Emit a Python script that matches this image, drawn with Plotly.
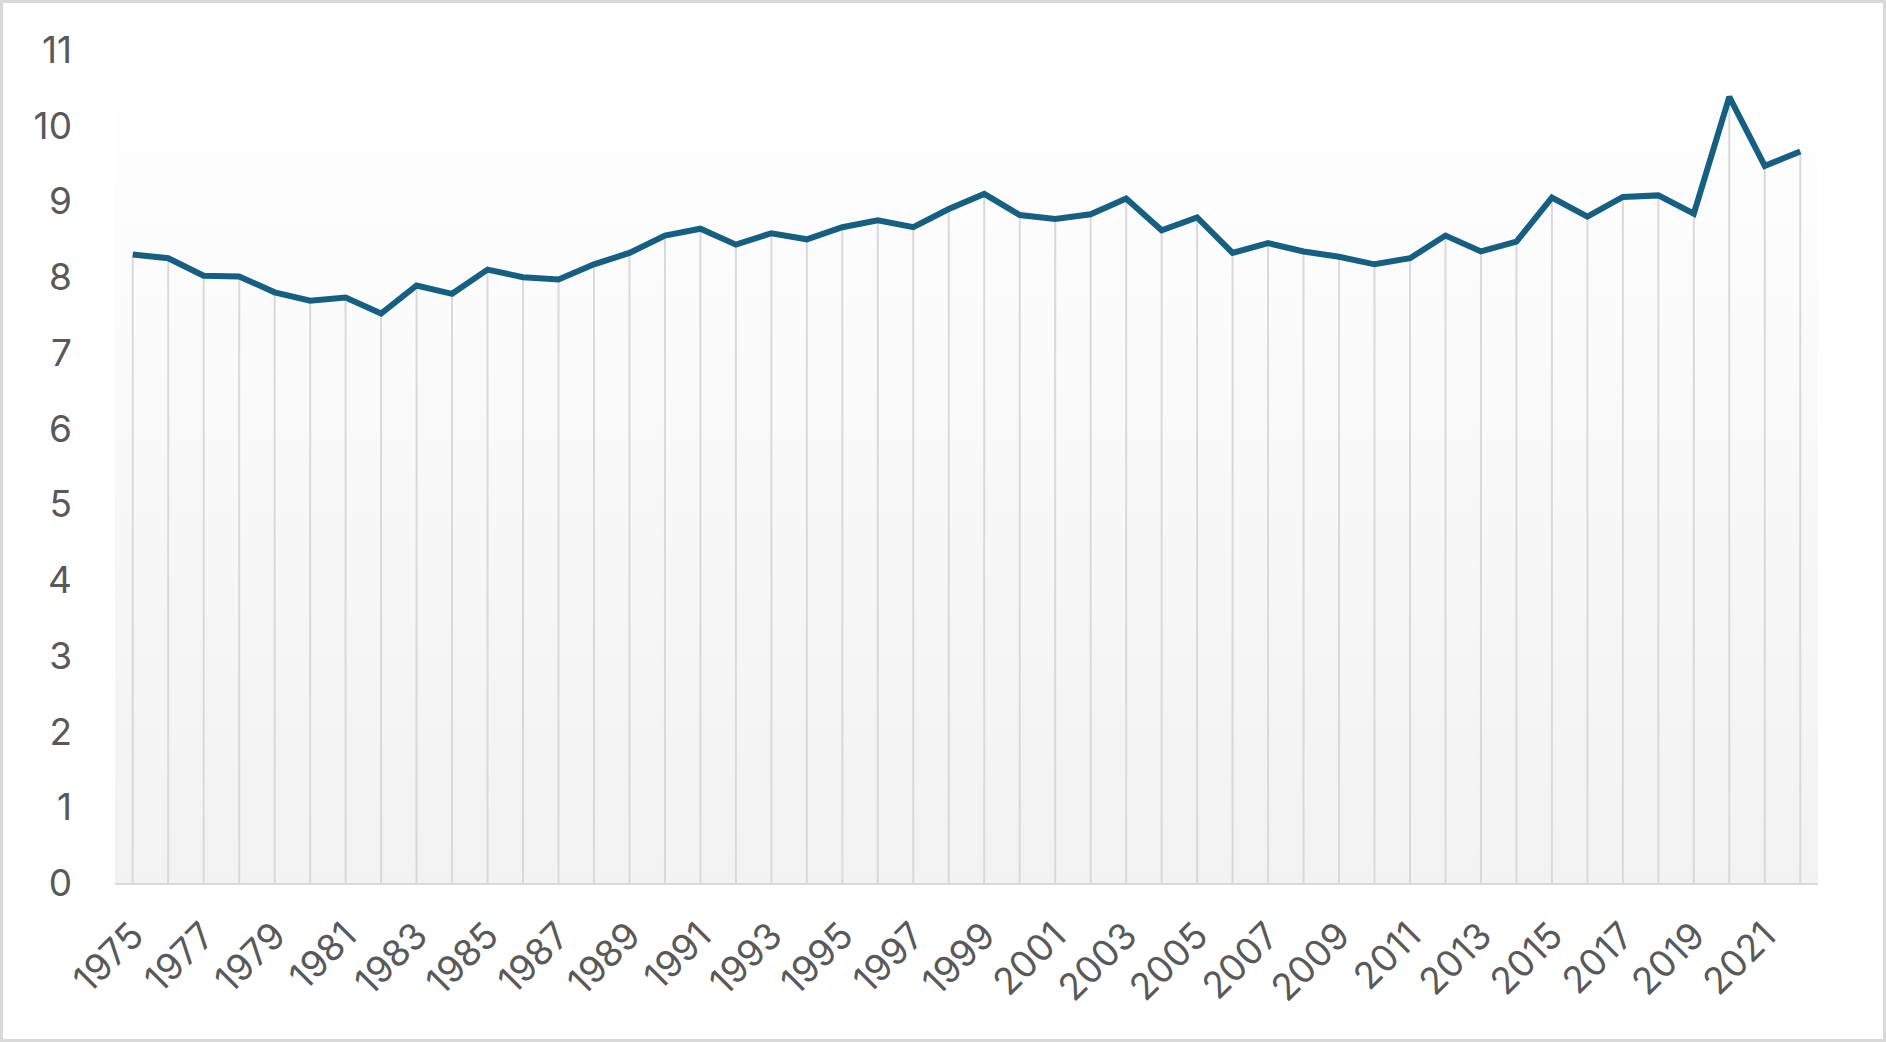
"""
Line chart of yearly values 1975-2022 with drop lines, Excel style
"""

import plotly.graph_objects as go

# Data
years = list(range(1975, 2023))
values = [
    8.30, 8.25, 8.02, 8.01, 7.80, 7.69, 7.73, 7.52, 7.89, 7.78,
    8.10, 8.00, 7.97, 8.17, 8.32, 8.55, 8.64, 8.43, 8.58, 8.50,
    8.66, 8.75, 8.66, 8.90, 9.10, 8.82, 8.77, 8.83, 9.04, 8.62,
    8.79, 8.32, 8.45, 8.34, 8.27, 8.17, 8.25, 8.55, 8.34, 8.47,
    9.05, 8.80, 9.06, 9.08, 8.84, 10.38, 9.47, 9.66,
]
tick_years = years[::2]
y_ticks = list(range(0, 12))

# Layout numbers (pixels)
W, H = 1886, 1042
M_L, M_R, M_T, M_B = 115, 68, 50, 159

LINE_COLOR = "#156082"
DROP_COLOR = "#d9d9d9"
TEXT_COLOR = "#595959"
FONT = "Inter, Noto Sans, Arial, sans-serif"

x_lo, x_hi = years[0] - 0.5, years[-1] + 0.5
y_lo, y_hi = y_ticks[0], y_ticks[-1]

fig = go.Figure()

# Plot area background: vertical gradient, light grey at the bottom to white on top
fig.add_trace(
    go.Scatter(
        x=[x_lo, x_hi],
        y=[y_hi, y_hi],
        mode="lines",
        line={"width": 0},
        fill="tozeroy",
        fillgradient={
            "type": "vertical",
            "colorscale": [[0, "#f2f2f2"], [1, "#ffffff"]],
        },
        hoverinfo="skip",
        showlegend=False,
    )
)

# Drop lines from each point down to the axis
fig.add_trace(
    go.Scatter(
        x=years,
        y=values,
        mode="markers",
        marker={"size": 0.1, "color": "rgba(0,0,0,0)"},
        error_y={
            "type": "data",
            "symmetric": False,
            "array": [0] * len(values),
            "arrayminus": values,
            "color": DROP_COLOR,
            "thickness": 2,
            "width": 0,
        },
        hoverinfo="skip",
        showlegend=False,
    )
)

# Main series
fig.add_trace(
    go.Scatter(
        x=years,
        y=values,
        mode="lines",
        line={"color": LINE_COLOR, "width": 6},
        showlegend=False,
    )
)

fig.update_layout(
    width=W,
    height=H,
    margin={"l": M_L, "r": M_R, "t": M_T, "b": M_B},
    paper_bgcolor="white",
    plot_bgcolor="white",
    font={"family": FONT, "size": 37, "color": TEXT_COLOR},
    showlegend=False,
)

fig.update_xaxes(
    range=[x_lo, x_hi],
    tickmode="array",
    tickvals=tick_years,
    ticktext=[str(y) for y in tick_years],
    tickangle=-45,
    showgrid=False,
    zeroline=False,
    showline=True,
    linecolor=DROP_COLOR,
    linewidth=2,
    ticks="",
    ticklabelstandoff=14,
    automargin=False,
)

fig.update_yaxes(
    range=[y_lo, y_hi],
    tickmode="array",
    tickvals=y_ticks,
    showgrid=False,
    zeroline=False,
    showline=False,
    ticks="",
    ticklabelstandoff=42,
    automargin=False,
)

# Thin grey border round the whole chart area
plot_w = W - M_L - M_R
plot_h = H - M_T - M_B
fig.add_shape(
    type="rect",
    xref="paper",
    yref="paper",
    x0=(1.5 - M_L) / plot_w,
    x1=(W - 1.5 - M_L) / plot_w,
    y0=-(M_B - 1.5) / plot_h,
    y1=1 + (M_T - 1.5) / plot_h,
    line={"color": DROP_COLOR, "width": 3},
    layer="above",
)

# page has a default body margin; drop it so the chart sits at the window corner
fig.write_html(
    "out.html",
    config={"displayModeBar": False},
    post_script="document.body.style.margin = '0';",
)
